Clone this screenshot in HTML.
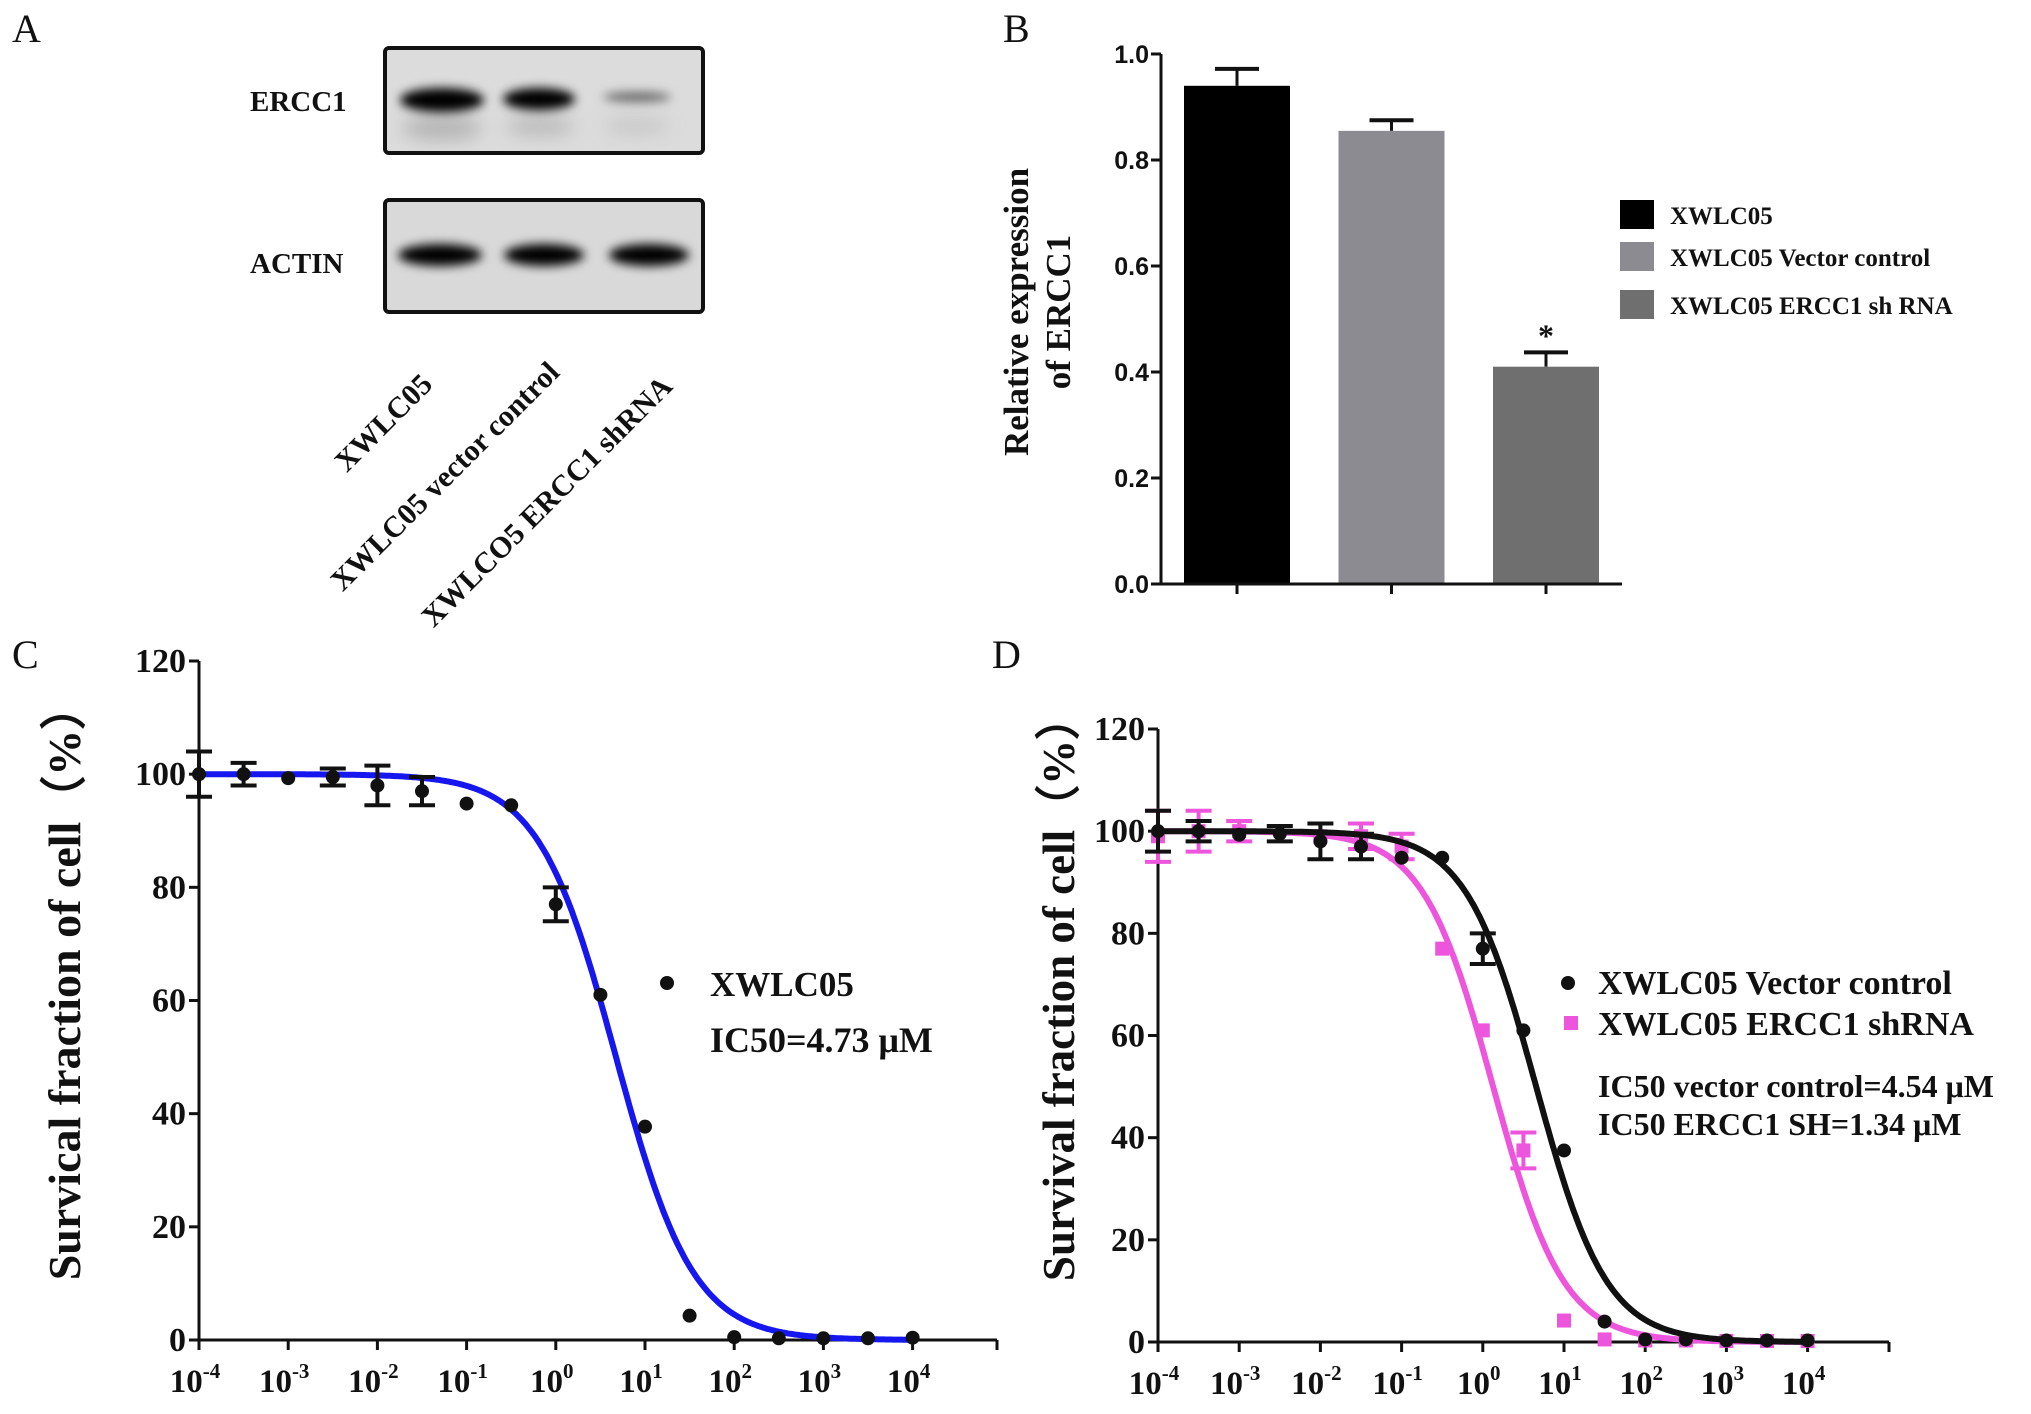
<!DOCTYPE html>
<html><head><meta charset="utf-8"><style>
html,body{margin:0;padding:0;background:#fff}
svg{display:block}
text{font-family:"Liberation Serif",serif;font-weight:bold;fill:#111}
.lt{font-weight:normal;font-size:40px}
</style></head><body>
<svg id="fig" width="2031" height="1414" viewBox="0 0 2031 1414" xmlns="http://www.w3.org/2000/svg">
<defs>
<filter id="blur" x="-20%" y="-50%" width="140%" height="200%"><feGaussianBlur stdDeviation="5"/></filter>
<filter id="blur2" x="-20%" y="-50%" width="140%" height="200%"><feGaussianBlur stdDeviation="9"/></filter>
</defs>
<text class="lt" x="12" y="42">A</text>
<text class="lt" x="1003" y="42">B</text>
<text class="lt" x="12" y="668">C</text>
<text class="lt" x="992" y="668">D</text>

<!-- Panel A: western blot -->
<g>
<rect x="385" y="48" width="318" height="105" rx="4" fill="#dcdcdc" stroke="#111" stroke-width="4"/>
<g filter="url(#blur2)" opacity="0.4">
<ellipse cx="442" cy="128" rx="40" ry="12" fill="#777"/><ellipse cx="540" cy="126" rx="34" ry="10" fill="#888"/><ellipse cx="637" cy="126" rx="34" ry="9" fill="#aaa"/>
</g>
<g filter="url(#blur)">
<ellipse cx="442" cy="100" rx="42" ry="12" fill="#000"/>
<ellipse cx="539" cy="99" rx="36" ry="11" fill="#050505"/>
<ellipse cx="637" cy="97" rx="34" ry="5" fill="#666"/>
</g>
<rect x="385" y="200" width="318" height="112" rx="4" fill="#d9d9d9" stroke="#111" stroke-width="4"/>
<g filter="url(#blur)">
<ellipse cx="440" cy="255" rx="42" ry="11" fill="#000"/>
<ellipse cx="544" cy="255" rx="40" ry="11" fill="#050505"/>
<ellipse cx="649" cy="255" rx="40" ry="11" fill="#050505"/>
</g>
<text x="250" y="111" font-size="29">ERCC1</text>
<text x="250" y="273" font-size="29">ACTIN</text>
<text font-size="30" text-anchor="end" transform="translate(434,386) rotate(-45)">XWLC05</text>
<text font-size="30" text-anchor="end" transform="translate(561,374) rotate(-45)">XWLC05 vector control</text>
<text font-size="30" text-anchor="end" transform="translate(674,388) rotate(-45)">XWLCO5 ERCC1 shRNA</text>
</g>

<g id="panelB"></g>
<g id="panelC"></g>
<g id="panelD"></g>
</svg>
<script>
// ---- Panel B data ----
const barCategories = ["XWLC05", "XWLC05 Vector control", "XWLC05 ERCC1 sh RNA"];
const barValues = [0.94, 0.855, 0.41];
const barErrors = [0.032, 0.02, 0.027];
const barYTicks = [0.0, 0.2, 0.4, 0.6, 0.8, 1.0];

// ---- Panel C data ----
const cLogDose = [-4, -3.5, -3, -2.5, -2, -1.5, -1, -0.5, 0, 0.5, 1, 1.5, 2, 2.5, 3, 3.5, 4];
const cSurvival = [100, 100, 99.3, 99.5, 98, 97, 94.8, 94.5, 77, 61, 37.7, 4.3, 0.5, 0.3, 0.3, 0.3, 0.4];
const cError = [4, 2, 0, 1.5, 3.5, 2.5, 0, 0, 3, 0, 0, 0, 0, 0, 0, 0, 0];
const cIC50 = [4.73];
const cHill = [1.0];

// ---- Panel D data ----
const dLogDoseVec = [-4, -3.5, -3, -2.5, -2, -1.5, -1, -0.5, 0, 0.5, 1, 1.5, 2, 2.5, 3, 3.5, 4];
const dSurvVec = [100, 100, 99.3, 99.5, 98, 97, 94.8, 94.8, 77, 61, 37.5, 4, 0.5, 0.5, 0.3, 0.3, 0.3];
const dErrVec = [4, 2, 0, 1.5, 3.5, 2.5, 0, 0, 3, 0, 0, 0, 0, 0, 0, 0, 0];
const dLogDoseSh = [-4, -3.5, -3, -2, -1.5, -1, -0.5, 0, 0.5, 1, 1.5, 2, 2.5, 3, 3.5, 4];
const dSurvSh = [99, 100, 100, 99, 99, 97, 77, 61, 37.5, 4.2, 0.5, 0.3, 0.3, 0.2, 0.2, 0.2];
const dErrSh = [5, 4, 2, 0, 2.5, 2.5, 0, 0, 3.5, 0, 0, 0, 0, 0, 0, 0];
const dIC50 = [4.54, 1.34];
const dHill = [1.0, 1.0];

const yTicksSurv = [0, 20, 40, 60, 80, 100, 120];
const xDecades = [-4, -3, -2, -1, 0, 1, 2, 3, 4];

const NS = "http://www.w3.org/2000/svg";
function mk(parent, tag, attrs, txt) {
  const e = document.createElementNS(NS, tag);
  for (const k in attrs) e.setAttribute(k, attrs[k]);
  if (txt !== undefined) e.textContent = txt;
  parent.appendChild(e);
  return e;
}
function hill(l, ic, h) { return 100 / (1 + Math.pow(10, (l - Math.log10(ic)) * h)); }

// ---------- Panel B ----------
(function () {
  const g = document.getElementById("panelB");
  const x0 = 1161, xEnd = 1622, y0 = 584, y1 = 54;
  const yB = v => y0 - v * (y0 - y1);
  const colors = ["#000000", "#8b8b91", "#6f6f6f"];
  const barX = i => 1184 + i * 154.5;
  const bw = 106;
  barValues.forEach((v, i) => {
    const cx = barX(i) + bw / 2;
    const top = yB(v + barErrors[i]);
    let l = mk(g, "line", { x1: cx, y1: yB(v), x2: cx, y2: top, stroke: "#111", "stroke-width": 3 });
    
    
    let c = mk(g, "line", { x1: cx - 22, y1: top, x2: cx + 22, y2: top, stroke: "#111", "stroke-width": 4 });
    
    
    const r = mk(g, "rect", { x: barX(i), y: yB(v), width: bw, height: y0 - yB(v), fill: colors[i] });
    
    
    mk(g, "line", { x1: cx, y1: y0, x2: cx, y2: y0 + 10, stroke: "#111", "stroke-width": 3 });
  });
  const ast = mk(g, "text", { x: barX(2) + bw / 2, y: yB(barValues[2] + barErrors[2]) - 6, "text-anchor": "middle", "font-size": 32, fill: "#555" }, "*");
  
  
  const ax = mk(g, "path", { d: `M${x0},${y1} V${y0} H${xEnd}`, fill: "none", stroke: "#111", "stroke-width": 3 });
  
  
  barYTicks.forEach(t => {
    mk(g, "line", { x1: x0 - 10, y1: yB(t), x2: x0, y2: yB(t), stroke: "#111", "stroke-width": 3 });
    const tl = mk(g, "text", { x: x0 - 12, y: yB(t) + 9, "text-anchor": "end", "font-size": 25, style: "font-family:'Liberation Sans',sans-serif" }, t.toFixed(1));
    
    
  });
  const t1 = mk(g, "text", { transform: "translate(1028,312) rotate(-90)", "text-anchor": "middle", "font-size": 35 }, "Relative expression");
  
  
  mk(g, "text", { transform: "translate(1070,312) rotate(-90)", "text-anchor": "middle", "font-size": 35, "xml:space": "preserve" }, "of  ERCC1");
  const ly = [200, 242, 290];
  barCategories.forEach((c, i) => {
    const sw = mk(g, "rect", { x: 1620, y: ly[i], width: 34, height: 29, fill: colors[i] });
    
    
    const lt = mk(g, "text", { x: 1670, y: ly[i] + 24, "font-size": 25 }, c);
    
    
  });
})();

// ---------- Dose-response axes helper ----------
function drawAxes(g, x0, xEnd, y0, y120, dec, xOf) {
  const yS = v => y0 - v * (y0 - y120) / 120;
  const ax = mk(g, "path", { d: `M${x0},${y120} V${y0} H${xEnd}`, fill: "none", stroke: "#111", "stroke-width": 3 });
  
  
  yTicksSurv.forEach(t => {
    mk(g, "line", { x1: x0 - 10, y1: yS(t), x2: x0, y2: yS(t), stroke: "#111", "stroke-width": 3 });
    const tl = mk(g, "text", { x: x0 - 13, y: yS(t) + 11, "text-anchor": "end", "font-size": 34 }, String(t));
    
    
  });
  xDecades.forEach(d => {
    const x = xOf(d);
    mk(g, "line", { x1: x, y1: y0, x2: x, y2: y0 + 10, stroke: "#111", "stroke-width": 3 });
    const tl = mk(g, "text", { x: x - 4, y: y0 + 52, "text-anchor": "middle", "font-size": 33 });
    
    
    mk(tl, "tspan", {}, "10");
    mk(tl, "tspan", { dy: -14, "font-size": 21 }, String(d));
  });
  mk(g, "line", { x1: xEnd, y1: y0, x2: xEnd, y2: y0 + 10, stroke: "#111", "stroke-width": 3 });
  return yS;
}
function drawCurve(g, xOf, yS, ic, h, color, name) {
  let d = "";
  for (let l = -4; l <= 4.001; l += 0.02) d += (d ? "L" : "M") + xOf(l).toFixed(1) + "," + yS(hill(l, ic, h)).toFixed(1);
  const p = mk(g, "path", { d, fill: "none", stroke: color, "stroke-width": 6 });
  
  
}
function drawPoints(g, xOf, yS, xs, ys, es, color, square, name) {
  xs.forEach((l, i) => {
    const x = xOf(l), y = yS(ys[i]);
    if (es[i] > 0) {
      const a = yS(ys[i] + es[i]), b = yS(ys[i] - es[i]);
      mk(g, "path", { d: `M${x},${a} V${b} M${x - 13},${a} H${x + 13} M${x - 13},${b} H${x + 13}`, stroke: color, "stroke-width": 4, fill: "none" });
    }
    let m;
    if (square) m = mk(g, "rect", { x: x - 7, y: y - 7, width: 14, height: 14, fill: color });
    else m = mk(g, "circle", { cx: x, cy: y, r: 7, fill: color });
    
    
  });
}

// ---------- Panel C ----------
(function () {
  const g = document.getElementById("panelC");
  const x0 = 199, xEnd = 997, y0 = 1340, y120 = 661, dec = 89.2;
  const xOf = l => x0 + (l + 4) * dec;
  const yS = drawAxes(g, x0, xEnd, y0, y120, dec, xOf);
  drawCurve(g, xOf, yS, cIC50[0], cHill[0], "#1616ee", "fit-curve-xwlc05");
  drawPoints(g, xOf, yS, cLogDose, cSurvival, cError, "#111", false, "data-point");
  const t = mk(g, "text", { transform: "translate(80,982) rotate(-90)", "text-anchor": "middle", "font-size": 46 }, "Survical fraction of cell（%）");
  
  
  const dot = mk(g, "circle", { cx: 667, cy: 983, r: 7, fill: "#111" });
  
  
  const l1 = mk(g, "text", { x: 710, y: 996, "font-size": 35 }, "XWLC05");
  
  
  const l2 = mk(g, "text", { x: 710, y: 1052, "font-size": 36 }, "IC50=4.73 μM");
  
  
})();

// ---------- Panel D ----------
(function () {
  const g = document.getElementById("panelD");
  const x0 = 1158, xEnd = 1889, y0 = 1342, y120 = 729, dec = 81.2;
  const xOf = l => x0 + (l + 4) * dec;
  const yS = drawAxes(g, x0, xEnd, y0, y120, dec, xOf);
  drawCurve(g, xOf, yS, dIC50[1], dHill[1], "#ee55dd", "fit-curve-shrna");
  drawPoints(g, xOf, yS, dLogDoseSh, dSurvSh, dErrSh, "#ee55dd", true, "data-point-shrna");
  drawCurve(g, xOf, yS, dIC50[0], dHill[0], "#111", "fit-curve-vector");
  drawPoints(g, xOf, yS, dLogDoseVec, dSurvVec, dErrVec, "#111", false, "data-point-vector");
  const t = mk(g, "text", { transform: "translate(1074,988) rotate(-90)", "text-anchor": "middle", "font-size": 45 }, "Survival fraction of cell（%）");
  
  
  const dot = mk(g, "circle", { cx: 1568, cy: 983, r: 7, fill: "#111" });
  
  
  const sq = mk(g, "rect", { x: 1564, y: 1016, width: 14, height: 14, fill: "#ee55dd" });
  
  
  const lines = [["XWLC05  Vector control", 994, 'legend-entry', 34], ["XWLC05  ERCC1 shRNA", 1035, 'legend-entry', 34], ["IC50 vector control=4.54 μM", 1097, 'ic50-annotation', 32], ["IC50 ERCC1 SH=1.34 μM", 1135, 'ic50-annotation', 32]];
  lines.forEach(a => {
    const e = mk(g, "text", { x: 1598, y: a[1], "font-size": a[3], "xml:space": "preserve" }, a[0]);
    
    
  });
})();
</script>
</body></html>
